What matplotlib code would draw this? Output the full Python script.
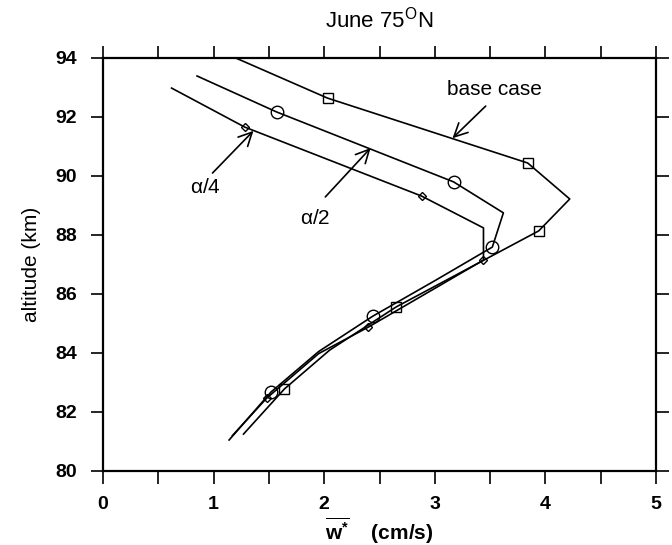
import matplotlib
matplotlib.use("Agg")
import matplotlib.pyplot as plt

plt.rcParams['font.family'] = ['Liberation Sans', 'DejaVu Sans']
plt.rcParams['mathtext.fontset'] = 'custom'
plt.rcParams['mathtext.rm'] = 'Liberation Sans'
plt.rcParams['mathtext.it'] = 'Liberation Sans'
plt.rcParams['mathtext.bf'] = 'Liberation Sans:bold'

# base case (squares)
base_w = [1.20, 2.03, 3.84, 4.22, 3.94, 2.65, 2.05, 1.64, 1.27]
base_z = [94.0, 92.64, 90.44, 89.22, 88.14, 85.56, 84.10, 82.78, 81.25]
base_marks = [1, 2, 4, 5, 7]

# alpha/2 (circles)
half_w = [0.85, 1.57, 3.17, 3.62, 3.52, 3.00, 2.44, 1.95, 1.52, 1.14]
half_z = [93.39, 92.17, 89.80, 88.75, 87.59, 86.45, 85.25, 84.05, 82.68, 81.05]
half_marks = [1, 2, 4, 6, 8]

# alpha/4 (diamonds)
quarter_w = [0.62, 1.28, 2.88, 3.44, 3.44, 2.40, 1.95, 1.48, 1.17]
quarter_z = [92.98, 91.66, 89.32, 88.24, 87.15, 84.88, 83.98, 82.47, 81.20]
quarter_marks = [1, 2, 4, 5, 7]

fig = plt.figure(figsize=(6.72, 5.45), dpi=100)
ax = fig.add_axes([0.1533, 0.1358, 0.8229, 0.7578])

ax.plot(base_w, base_z, color='black', lw=1.2, marker='s', markevery=base_marks,
        markersize=7, markerfacecolor='none', markeredgewidth=1.0)
ax.plot(half_w, half_z, color='black', lw=1.2, marker='o', markevery=half_marks,
        markersize=9, markerfacecolor='none', markeredgewidth=1.0)
ax.plot(quarter_w, quarter_z, color='black', lw=1.2, marker='D', markevery=quarter_marks,
        markersize=4.5, markerfacecolor='none', markeredgewidth=1.0)

# labels and their arrows
arrow = dict(arrowstyle='->', color='black', lw=1.2, mutation_scale=24,
             shrinkA=0, shrinkB=0)
ax.annotate('', xy=(3.16, 91.28), xytext=(3.46, 92.37), arrowprops=arrow)
ax.text(3.54, 92.92, 'base case', fontsize=15, ha='center', va='center')
ax.annotate('', xy=(1.36, 91.53), xytext=(0.99, 90.10), arrowprops=arrow)
ax.text(0.93, 89.6, r'$\alpha$/4', fontsize=15, ha='center', va='center')
ax.annotate('', xy=(2.42, 90.95), xytext=(2.01, 89.29), arrowprops=arrow)
ax.text(1.92, 88.55, r'$\alpha$/2', fontsize=15, ha='center', va='center')

ax.set_xlim(0, 5)
ax.set_ylim(80, 94)
ax.set_xticks([0, 1, 2, 3, 4, 5])
ax.set_xticks([0.5, 1.5, 2.5, 3.5, 4.5], minor=True)
ax.set_yticks([80, 82, 84, 86, 88, 90, 92, 94])

ax.tick_params(which='both', direction='out', top=True, right=True,
               width=1.2, length=9, labelsize=14)
ax.tick_params(axis='x', pad=9)
ax.tick_params(axis='y', pad=10)
for lab in ax.get_xticklabels() + ax.get_yticklabels():
    lab.set_fontweight('bold')
for sp in ax.spines.values():
    sp.set_linewidth(1.6)

ax.set_ylabel('altitude (km)', fontsize=15, labelpad=10)
ax.set_xlabel(r'$\overline{\mathbf{w^{*}}}$    (cm/s)', fontsize=15,
              fontweight='bold', labelpad=2)
ax.set_title(r'June 75$^{\rm O}$N', fontsize=16, pad=22)

fig.savefig('out.png', dpi=100)
